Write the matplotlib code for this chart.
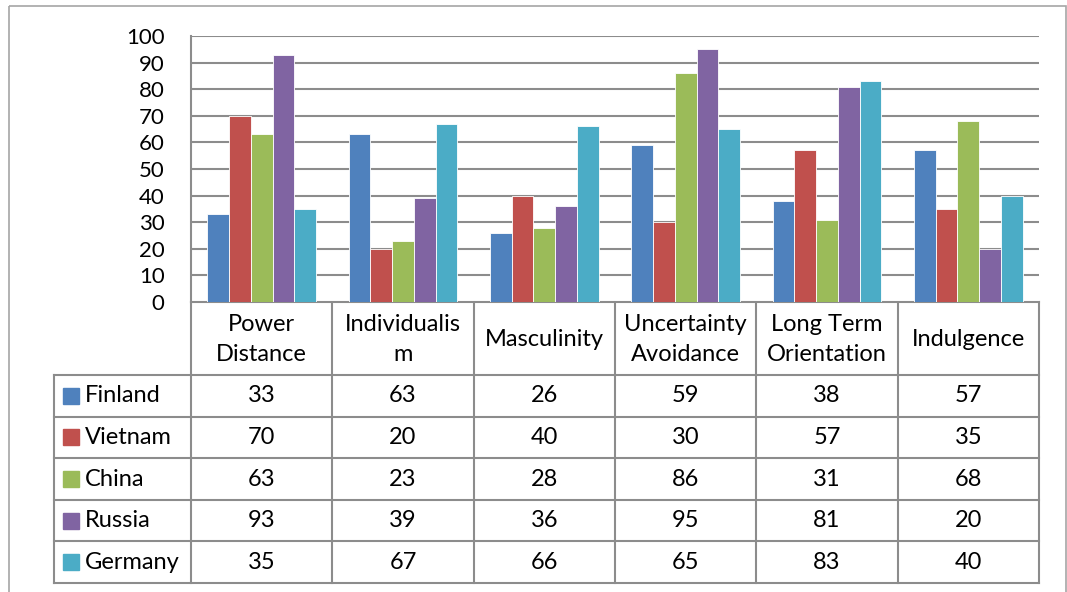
import numpy as np
import matplotlib.pyplot as plt
from matplotlib.patches import Rectangle

categories = ['Power\nDistance', 'Individualis\nm', 'Masculinity',
              'Uncertainty\nAvoidance', 'Long Term\nOrientation', 'Indulgence']
countries = ['Finland', 'Vietnam', 'China', 'Russia', 'Germany']
finland = [33, 63, 26, 59, 38, 57]
vietnam = [70, 20, 40, 30, 57, 35]
china = [63, 23, 28, 86, 31, 68]
russia = [93, 39, 36, 95, 81, 20]
germany = [35, 67, 66, 65, 83, 40]
colors = ['#4F81BD', '#C0504D', '#9BBB59', '#8064A2', '#4BACC6']
yticks = list(range(0, 101, 10))

series = [finland, vietnam, china, russia, germany]

W, H = 1067, 592
plt.rcParams['font.family'] = ['Lato', 'DejaVu Sans']
fig = plt.figure(figsize=(W / 100, H / 100), dpi=100)
grey = '#8c8c8c'
fs = 16
tfs = 17

# layout in pixels
left, right, top, bottom = 191, 1039, 36, 302
tbl_left = 54
head_bottom = 375
row_h = 41.6
ncol = len(categories)
colw = (right - left) / ncol

# bar chart
ax = fig.add_axes([left / W, 1 - bottom / H, (right - left) / W, (bottom - top) / H])
x = np.arange(ncol)
bw = 0.154
for i, (vals, c) in enumerate(zip(series, colors)):
    ax.bar(x + (i - 2) * bw, vals, bw, color=c, edgecolor='white', linewidth=0.6, zorder=3)
ax.set_xlim(-0.5, ncol - 0.5)
ax.set_ylim(0, 100)
ax.set_yticks(yticks)
ax.set_xticks([])
ax.grid(axis='y', color=grey, linewidth=1.5, zorder=0)
for s in ['top', 'right', 'bottom']:
    ax.spines[s].set_visible(False)
ax.spines['left'].set_color(grey)
ax.spines['left'].set_linewidth(1.5)
ax.tick_params(axis='y', length=0, pad=19, labelsize=fs)

# data table below the chart, drawn in pixel coordinates
tax = fig.add_axes([0, 0, 1, 1], zorder=-1)
tax.set_xlim(0, W)
tax.set_ylim(H, 0)
tax.axis('off')

tax.add_patch(Rectangle((9, 6), W - 10, H + 20, fill=False, edgecolor='#a6a6a6', linewidth=1.2))

tbl_bottom = head_bottom + row_h * len(countries)
tax.plot([left, right], [bottom, bottom], color=grey, lw=1.5)
for k in range(len(countries) + 1):
    yy = head_bottom + k * row_h
    tax.plot([tbl_left, right], [yy, yy], color=grey, lw=1.5)
tax.plot([tbl_left, tbl_left], [head_bottom, tbl_bottom], color=grey, lw=1.5)
for j in range(ncol + 1):
    xx = left + j * colw
    tax.plot([xx, xx], [bottom, tbl_bottom], color=grey, lw=1.5)

for j, cat in enumerate(categories):
    tax.text(left + (j + 0.5) * colw, (bottom + head_bottom) / 2 + 1, cat,
             ha='center', va='center', fontsize=tfs, linespacing=1.55)

for k, (name, vals, c) in enumerate(zip(countries, series, colors)):
    yc = head_bottom + (k + 0.5) * row_h
    tax.add_patch(Rectangle((63, yc - 8), 16, 16, color=c))
    tax.text(85, yc, name, ha='left', va='center', fontsize=tfs)
    for j, v in enumerate(vals):
        tax.text(left + (j + 0.5) * colw, yc, str(v), ha='center', va='center', fontsize=tfs)

fig.savefig('out.png', dpi=100)
